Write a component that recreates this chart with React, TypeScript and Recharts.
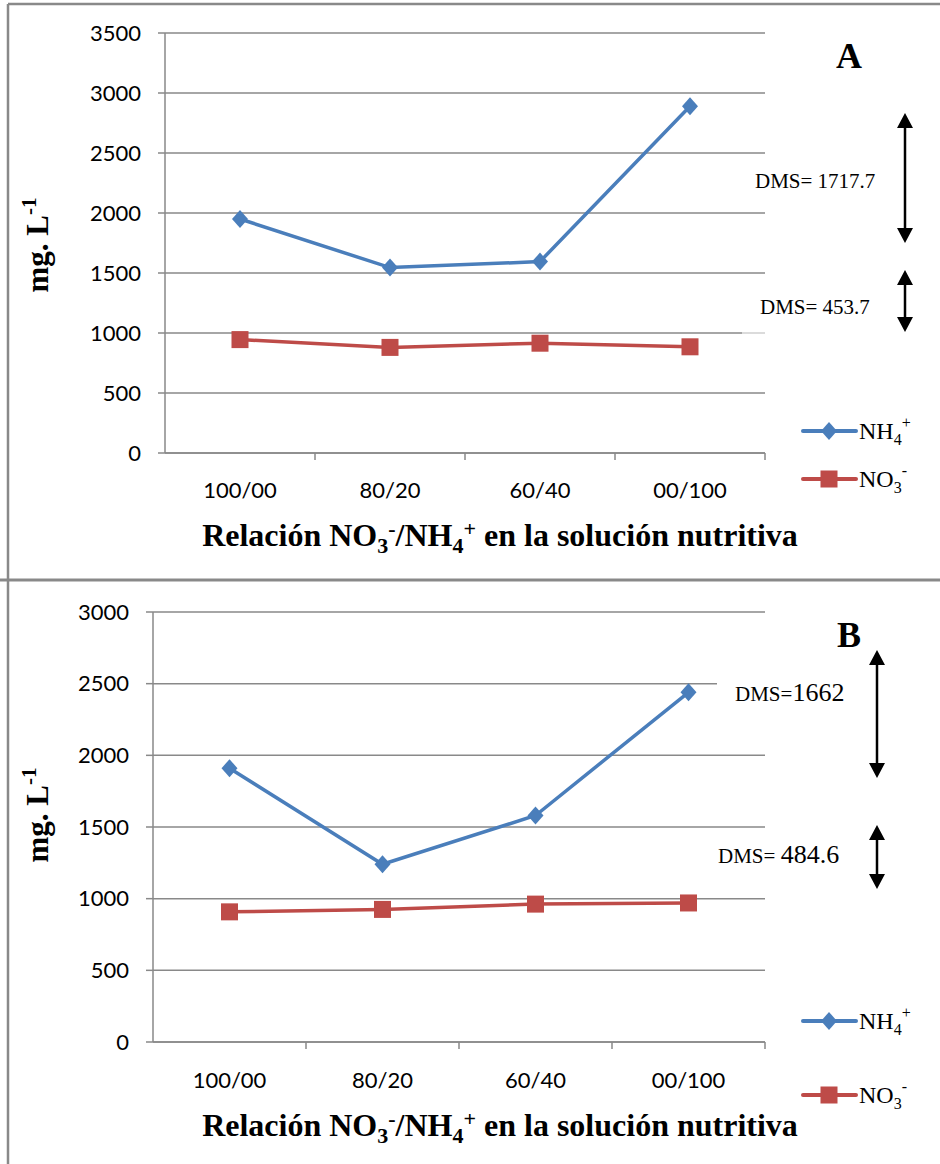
import React from "react";
import { LineChart, Line, XAxis, YAxis, CartesianGrid } from "recharts";

const categories = ["100/00", "80/20", "60/40", "00/100"];

// panel A
const nh4A = [1950, 1545, 1595, 2890];
const no3A = [945, 880, 915, 885];
const ticksA = [0, 500, 1000, 1500, 2000, 2500, 3000, 3500];

// panel B
const nh4B = [1910, 1240, 1580, 2440];
const no3B = [908, 925, 962, 970];
const ticksB = [0, 500, 1000, 1500, 2000, 2500, 3000];

const BLUE = "#4A7EBB";
const RED = "#BE4B48";
const GRID = "#898989";
const SERIF = "'Liberation Serif', 'Times New Roman', serif";
const SANS = "Lato, 'Open Sans', sans-serif";

const build = (a: number[], b: number[]) =>
  categories.map((c, i) => ({ cat: c, nh4: a[i], no3: b[i] }));

const Diamond = ({ cx, cy }: any) => (
  <path d={`M${cx},${cy - 9} L${cx + 8},${cy} L${cx},${cy + 9} L${cx - 8},${cy} Z`} fill={BLUE} />
);
const Square = ({ cx, cy }: any) => (
  <rect x={cx - 8.5} y={cy - 8.5} width={17} height={17} fill={RED} />
);

const makeTick = (half: number, off: number) => (props: any) => {
  const { x, y, payload } = props;
  return (
    <g>
      <line x1={x + half} y1={y} x2={x + half} y2={y + 7} stroke={GRID} strokeWidth={1.5} />
      <text x={x} y={y + off} textAnchor="middle" fontFamily={SANS} fontSize={22} fill="#000">
        {payload.value}
      </text>
    </g>
  );
};

type PanelProps = {
  data: any[];
  ticks: number[];
  top: number;
  height: number;
  margin: { top: number; right: number; bottom: number; left: number };
  half: number;
  off: number;
};

const Panel = ({ data, ticks, top, height, margin, half, off }: PanelProps) => (
  <div style={{ position: "absolute", left: 0, top }}>
    <LineChart width={940} height={height} data={data} margin={margin}>
      <CartesianGrid vertical={false} stroke={GRID} strokeWidth={1.5} />
      <XAxis
        dataKey="cat"
        height={40}
        padding={{ left: half, right: half }}
        axisLine={{ stroke: GRID, strokeWidth: 1.5 }}
        tickLine={false}
        tickSize={0}
        tickMargin={0}
        interval={0}
        tick={makeTick(half, off)}
      />
      <YAxis
        width={60}
        domain={[0, ticks[ticks.length - 1]]}
        ticks={ticks}
        interval={0}
        axisLine={{ stroke: GRID, strokeWidth: 1.5 }}
        tickLine={{ stroke: GRID, strokeWidth: 1.5 }}
        tickSize={7}
        tickMargin={17}
        tick={{ fontFamily: SANS, fontSize: 22, fill: "#000" }}
      />
      <Line
        dataKey="nh4"
        type="linear"
        stroke={BLUE}
        strokeWidth={3.5}
        isAnimationActive={false}
        dot={(p: any) => <Diamond key={p.index} cx={p.cx} cy={p.cy} />}
      />
      <Line
        dataKey="no3"
        type="linear"
        stroke={RED}
        strokeWidth={3.5}
        isAnimationActive={false}
        dot={(p: any) => <Square key={p.index} cx={p.cx} cy={p.cy} />}
      />
    </LineChart>
  </div>
);

const Arrow = ({ x, y1, y2 }: { x: number; y1: number; y2: number }) => (
  <g>
    <line x1={x} y1={y1 + 12} x2={x} y2={y2 - 12} stroke="#000" strokeWidth={2.5} />
    <path d={`M${x},${y1} L${x + 8},${y1 + 15} L${x - 8},${y1 + 15} Z`} fill="#000" />
    <path d={`M${x},${y2} L${x + 8},${y2 - 15} L${x - 8},${y2 - 15} Z`} fill="#000" />
  </g>
);

const Title = ({ y }: { y: number }) => (
  <text x={500} y={y} textAnchor="middle" fontFamily={SERIF} fontWeight="bold" fontSize={32} fill="#000">
    Relación NO
    <tspan dy={7} fontSize={22}>3</tspan>
    <tspan dy={-17} fontSize={22}>-</tspan>
    <tspan dy={10}>/NH</tspan>
    <tspan dy={7} fontSize={22}>4</tspan>
    <tspan dy={-17} fontSize={22}>+</tspan>
    <tspan dy={10}> en la solución nutritiva</tspan>
  </text>
);

const YLabel = ({ cy }: { cy: number }) => (
  <text
    transform={`translate(48,${cy}) rotate(-90)`}
    textAnchor="middle"
    fontFamily={SERIF}
    fontWeight="bold"
    fontSize={31}
    fill="#000"
  >
    mg. L<tspan dy={-12} fontSize={21}>-1</tspan>
  </text>
);

const LegendItems = ({ y1, y2 }: { y1: number; y2: number }) => (
  <g>
    <line x1={803} y1={y1} x2={856} y2={y1} stroke={BLUE} strokeWidth={4} strokeLinecap="round" />
    <Diamond cx={829} cy={y1} />
    <text x={859} y={y1 + 8} fontFamily={SERIF} fontSize={24} fill="#000">
      NH<tspan dy={6} fontSize={16}>4</tspan>
      <tspan dy={-17} fontSize={16}>+</tspan>
    </text>
    <line x1={803} y1={y2} x2={856} y2={y2} stroke={RED} strokeWidth={4} strokeLinecap="round" />
    <Square cx={829} cy={y2} />
    <text x={859} y={y2 + 8} fontFamily={SERIF} fontSize={24} fill="#000">
      NO<tspan dy={6} fontSize={16}>3</tspan>
      <tspan dy={-17} fontSize={16}>-</tspan>
    </text>
  </g>
);

export default function App() {
  return (
    <div style={{ position: "absolute", left: 0, top: 0, width: 940, height: 1164, background: "#fff" }}>
      <Panel
        data={build(nh4A, no3A)}
        ticks={ticksA}
        top={0}
        height={580}
        margin={{ top: 33, right: 175, bottom: 87, left: 105 }}
        half={75}
        off={45}
      />
      <Panel
        data={build(nh4B, no3B)}
        ticks={ticksB}
        top={580}
        height={584}
        margin={{ top: 32, right: 175, bottom: 82, left: 93 }}
        half={76.5}
        off={46}
      />
      <svg
        width={940}
        height={1164}
        style={{ position: "absolute", left: 0, top: 0, pointerEvents: "none" }}
      >
        {/* frame */}
        <line x1={8} y1={4} x2={940} y2={4} stroke={GRID} strokeWidth={2.5} />
        <line x1={8} y1={4} x2={8} y2={1164} stroke={GRID} strokeWidth={2.5} />
        <line x1={0} y1={580} x2={940} y2={580} stroke={GRID} strokeWidth={3} />

        {/* panel A */}
        <text x={849} y={68} textAnchor="middle" fontFamily={SERIF} fontWeight="bold" fontSize={36}>A</text>
        <rect x={742} y={330} width={24} height={5} fill="#fff" opacity={0.6} />
        <text x={755} y={188} fontFamily={SERIF} fontSize={21}>DMS= 1717.7</text>
        <text x={760} y={314} fontFamily={SERIF} fontSize={21}>DMS= 453.7</text>
        <Arrow x={905} y1={113} y2={243} />
        <Arrow x={905} y1={270} y2={332} />
        <YLabel cy={245} />
        <Title y={546} />
        <LegendItems y1={431} y2={479} />

        {/* panel B */}
        <text x={849} y={647} textAnchor="middle" fontFamily={SERIF} fontWeight="bold" fontSize={36}>B</text>
        <rect x={717} y={681} width={52} height={6} fill="#fff" />
        <text x={735} y={701} fontFamily={SERIF} fontSize={21}>
          DMS=<tspan fontSize={26}>1662</tspan>
        </text>
        <text x={718} y={863} fontFamily={SERIF} fontSize={21}>
          DMS= <tspan fontSize={26}>484.6</tspan>
        </text>
        <Arrow x={877} y1={650} y2={778} />
        <Arrow x={877} y1={825} y2={889} />
        <YLabel cy={815} />
        <Title y={1136} />
        <LegendItems y1={1021} y2={1095} />
      </svg>
    </div>
  );
}
